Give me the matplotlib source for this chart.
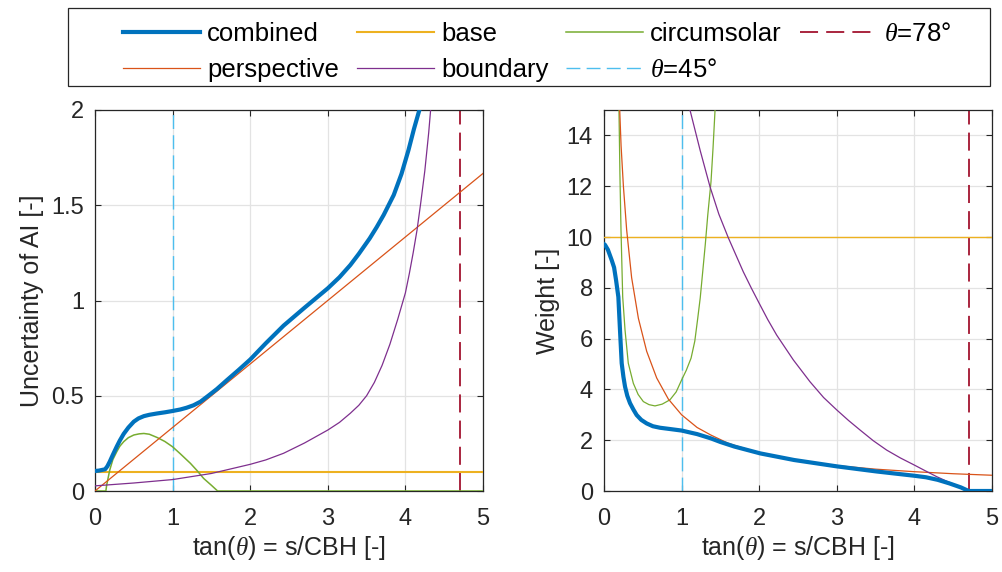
import matplotlib
matplotlib.use('Agg')
import matplotlib.pyplot as plt
from matplotlib.patches import Rectangle

plt.rcParams['font.family'] = ['Liberation Sans', 'DejaVu Sans']
plt.rcParams['mathtext.fontset'] = 'custom'
plt.rcParams['mathtext.it'] = 'Liberation Serif:italic'
plt.rcParams['mathtext.rm'] = 'Liberation Sans'

# colours (matlab default order)
c_comb = '#0072BD'
c_persp = '#D95319'
c_base = '#EDB120'
c_bound = '#7E2F8E'
c_circ = '#77AC30'
c_45 = '#4DBEEE'
c_78 = '#A2142F'

# tan(theta) positions of the marker lines
x_theta45 = 1.0
x_theta78 = 4.705

# ---- uncertainty (left) ----
x_persp_u = [0, 5]
persp_u = [0, 1.667]
x_base_u = [0, 5]
base_u = [0.1, 0.1]
x_circ_u = [0, 0.14, 0.15, 0.165, 0.19, 0.23, 0.28, 0.32, 0.37, 0.43, 0.5, 0.57, 0.63, 0.7, 0.8, 0.9,
            1.0, 1.1, 1.23, 1.32, 1.4, 1.5, 1.58, 5]
circ_u = [0, 0, 0.03, 0.06, 0.11, 0.165, 0.206, 0.235, 0.259, 0.28, 0.294, 0.3, 0.302, 0.298, 0.281, 0.26,
          0.232, 0.195, 0.145, 0.105, 0.066, 0.03, 0, 0]
x_bound_u = [0, 0.5, 1, 1.5, 2, 2.2, 2.43, 2.7, 3, 3.15, 3.29, 3.4, 3.5, 3.6, 3.7, 3.8, 3.9, 4.0, 4.05,
             4.1, 4.15, 4.2, 4.25, 4.3, 4.35, 4.4]
bound_u = [0.027, 0.042, 0.06, 0.092, 0.14, 0.163, 0.198, 0.252, 0.32, 0.36, 0.408, 0.45, 0.5, 0.57,
           0.66, 0.77, 0.9, 1.04, 1.14, 1.25, 1.37, 1.52, 1.68, 1.88, 2.12, 2.4]
x_comb_u = [0, 0.05, 0.13, 0.16, 0.19, 0.23, 0.28, 0.32, 0.37, 0.43, 0.5, 0.56, 0.63, 0.7, 0.8, 0.9,
            1.0, 1.1, 1.18, 1.27, 1.36, 1.46, 1.57, 1.7, 1.85, 2.0, 2.2, 2.43, 2.7, 3.0, 3.15, 3.29,
            3.4, 3.54, 3.63, 3.72, 3.85, 3.95, 4.04, 4.11, 4.18, 4.25]
comb_u = [0.105, 0.107, 0.114, 0.13, 0.154, 0.19, 0.233, 0.265, 0.30, 0.333, 0.364, 0.381, 0.393, 0.4,
          0.407, 0.413, 0.42, 0.428, 0.437, 0.45, 0.469, 0.5, 0.535, 0.582, 0.635, 0.69, 0.775, 0.868,
          0.962, 1.064, 1.122, 1.186, 1.245, 1.326, 1.385, 1.449, 1.554, 1.665, 1.79, 1.9, 2.0, 2.15]

# ---- weight (right) ----
x_base_w = [0, 5]
base_w = [10, 10]
x_persp_w = [0.2, 0.22, 0.25, 0.292, 0.356, 0.443, 0.55, 0.679, 0.829, 1.0, 1.2, 1.379, 1.6, 2.014,
             2.5, 3.0, 3.5, 4.0, 4.5, 5.0]
persp_w = [15.2, 13.6, 12.0, 10.28, 8.4, 6.8, 5.5, 4.45, 3.62, 3.0, 2.5, 2.2, 1.88, 1.48,
           1.2, 1.0, 0.86, 0.76, 0.68, 0.62]
x_circ_w = [0.19, 0.193, 0.205, 0.219, 0.241, 0.271, 0.313, 0.378, 0.44, 0.507, 0.58, 0.657, 0.75, 0.85,
            0.93, 1.0, 1.06, 1.122, 1.17, 1.208, 1.24, 1.272, 1.305, 1.337, 1.379, 1.405, 1.431, 1.45]
circ_w = [16.5, 15, 12.5, 10.28, 7.64, 6.34, 5.03, 4.24, 3.8, 3.52, 3.4, 3.35, 3.42, 3.59,
          3.9, 4.37, 4.75, 5.23, 5.9, 6.8, 7.6, 8.63, 9.7, 10.86, 12.18, 13.5, 15, 16.5]
x_bound_w = [1.0, 1.108, 1.24, 1.366, 1.48, 1.602, 1.795, 1.9, 2.0, 2.11, 2.225, 2.44, 2.655, 2.83,
             3.0, 3.15, 3.3, 3.47, 3.643, 3.82, 4.0, 4.15, 4.29, 4.45, 4.59, 4.7, 5.0]
bound_w = [16.4, 15, 13.4, 11.98, 10.9, 9.97, 8.63, 7.98, 7.39, 6.75, 6.14, 5.16, 4.3, 3.68,
           3.19, 2.78, 2.4, 1.98, 1.61, 1.3, 1.02, 0.78, 0.56, 0.34, 0.17, 0, 0]
x_comb_w = [0, 0.013, 0.05, 0.099, 0.13, 0.155, 0.185, 0.206, 0.228, 0.25, 0.271, 0.3, 0.335, 0.38,
            0.421, 0.48, 0.55, 0.63, 0.722, 0.85, 1.0, 1.2, 1.379, 1.5, 1.68, 2.014, 2.45, 3.0, 3.51,
            4.0, 4.15, 4.3, 4.45, 4.6, 4.7, 5.0]
comb_w = [9.72, 9.69, 9.5, 9.09, 8.8, 8.31, 7.64, 6.34, 5.03, 4.5, 4.11, 3.75, 3.46, 3.2,
          2.99, 2.8, 2.66, 2.55, 2.49, 2.44, 2.38, 2.24, 2.07, 1.93, 1.75, 1.48, 1.22, 0.97, 0.77,
          0.6, 0.54, 0.44, 0.3, 0.14, 0, 0]

dk = '#262626'
W, H = 1003, 572
fig = plt.figure(figsize=(W / 100, H / 100), dpi=100)
ax1 = fig.add_axes([95 / W, 1 - 491 / H, 388 / W, 381 / H])
ax2 = fig.add_axes([604 / W, 1 - 491 / H, 388 / W, 381 / H])

thin = 0.9
dash = (10, 4.5)


def draw(ax, comb, persp, base, bound, circ):
    left = ax is ax1
    ax.plot(*comb, color=c_comb, lw=3.0, label='combined', zorder=5)
    ax.plot(*persp, color=c_persp, lw=thin, label='perspective', zorder=4)
    ax.plot(*base, color=c_base, lw=1.5 if left else 1.0, label='base', zorder=3)
    ax.plot(*bound, color=c_bound, lw=thin, label='boundary', zorder=4)
    ax.plot(*circ, color=c_circ, lw=1.1 if left else thin, label='circumsolar', zorder=3)
    ax.axvline(x_theta45, color=c_45, lw=1.0, dashes=dash, label=r'$\theta$=45°', zorder=2)
    ax.axvline(x_theta78, color=c_78, lw=1.3, dashes=dash, label=r'$\theta$=78°', zorder=2)
    ax.set_xlim(0, 5)
    ax.set_xticks([0, 1, 2, 3, 4, 5])
    ax.grid(True, color='#e3e3e3', lw=0.9)
    ax.set_axisbelow(True)
    ax.tick_params(direction='in', top=True, right=True, length=4, width=0.8,
                   colors=dk, labelsize=17)
    ax.tick_params(axis='x', pad=12)
    ax.tick_params(axis='y', pad=8)
    for s in ax.spines.values():
        s.set_color(dk)
        s.set_linewidth(0.9)
    ax.set_xlabel(r'tan($\theta$) = s/CBH [-]', fontsize=18, color=dk, labelpad=3)


draw(ax1, (x_comb_u, comb_u), (x_persp_u, persp_u), (x_base_u, base_u),
     (x_bound_u, bound_u), (x_circ_u, circ_u))
ax1.set_ylim(0, 2)
ax1.set_yticks([0, 0.5, 1, 1.5, 2])
ax1.set_yticklabels(['0', '0.5', '1', '1.5', '2'])
ax1.set_ylabel('Uncertainty of AI [-]', fontsize=18, color=dk, labelpad=5)

draw(ax2, (x_comb_w, comb_w), (x_persp_w, persp_w), (x_base_w, base_w),
     (x_bound_w, bound_w), (x_circ_w, circ_w))
ax2.set_ylim(0, 15)
ax2.set_yticks([0, 2, 4, 6, 8, 10, 12, 14])
ax2.set_ylabel('Weight [-]', fontsize=18, color=dk, labelpad=5)

handles, labels = ax1.get_legend_handles_labels()
order = ['combined', 'perspective', 'base', 'boundary', 'circumsolar', r'$\theta$=45°', r'$\theta$=78°']
hl = dict(zip(labels, handles))
fig.legend([hl[k] for k in order], order, ncol=4, loc='upper left',
           bbox_to_anchor=(123 / W, 1 - 22 / H), frameon=False, fontsize=18.5,
           handlelength=3.0, handletextpad=0.27, columnspacing=0.7,
           labelspacing=0.46, borderpad=0, borderaxespad=0)
fig.patches.append(Rectangle((68 / W, 1 - 86 / H), 922 / W, 78 / H, transform=fig.transFigure,
                             fill=False, edgecolor=dk, lw=0.9))

fig.savefig('out.png', dpi=100)
